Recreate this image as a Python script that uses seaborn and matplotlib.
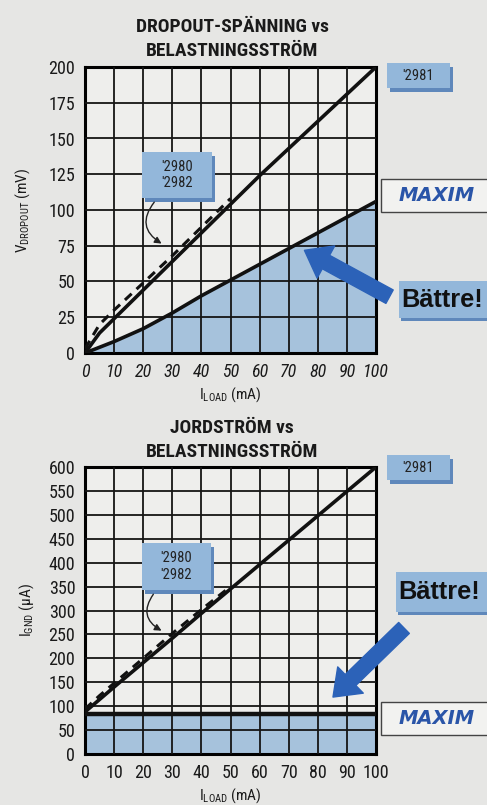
import numpy as np
import pandas as pd
import seaborn as sns
import matplotlib
matplotlib.use("Agg")
import matplotlib.pyplot as plt
from matplotlib import font_manager
from matplotlib.patches import Rectangle, FancyArrowPatch

# ---------------- data ----------------
load_ma = [0, 5, 10, 20, 30, 40, 50, 60, 70, 80, 90, 100]
load_half = [0, 5, 10, 20, 30, 40, 50]

drop_2981 = [0, 14, 24, 44, 64, 84, 104, 124, 143, 162, 181, 200]
drop_2980 = [3, 20, 30, 49, 68, 88, 108]
drop_maxim = [0, 4, 8, 17, 28, 40, 51, 62, 73, 84, 95, 106]

gnd_2981 = [88, 114, 140, 191, 242, 294, 345, 396, 447, 498, 549, 600]
gnd_2980 = [94, 122, 148, 200, 252, 302, 350]
gnd_maxim = [83, 83, 83, 83, 83, 83, 83, 83, 83, 83, 83, 83]

x_ticks = [0, 10, 20, 30, 40, 50, 60, 70, 80, 90, 100]
drop_ticks = [0, 25, 50, 75, 100, 125, 150, 175, 200]
gnd_ticks = [0, 50, 100, 150, 200, 250, 300, 350, 400, 450, 500, 550, 600]

# ---------------- fonts ----------------
sns.set_theme(style="white")
entries = font_manager.fontManager.ttflist
prefs = ["liberation sans narrow", "roboto condensed", "dejavu sans condensed",
         "noto sans condensed", "open sans condensed", "noto sans", "open sans",
         "roboto", "inter", "lato"]
NARROW, STRETCH = None, "normal"
for p in prefs:
    hits = [e for e in entries if e.name.lower() == p and
            (("condensed" in p or "narrow" in p) or str(e.stretch) in
             ("condensed", "semi-condensed", "extra-condensed"))]
    if hits:
        NARROW = hits[0].name
        STRETCH = str(hits[0].stretch) if str(hits[0].stretch) != "normal" else "normal"
        break
if NARROW is None:
    NARROW = "Liberation Sans"
    NARROW_OK = False
else:
    NARROW_OK = True

plt.rcParams["font.family"] = [NARROW, "Liberation Sans", "DejaVu Sans"]
plt.rcParams["font.stretch"] = STRETCH
plt.rcParams["mathtext.default"] = "regular"

TICK_FS = 13 if NARROW_OK else 10.5
TITLE_FS = 14 if NARROW_OK else 11.5

BG = "#e6e6e4"
FACE = "#eeeeec"
FILL = "#a6c2dc"
BOX = "#93b7da"
SHADOW = "#5f88bb"
ARROW = "#2c62b8"
MAXIMC = "#2a55a8"
INK = "#1a1a1a"

W, H = 487, 805
fig = plt.figure(figsize=(W / 100, H / 100), dpi=100, facecolor=BG)


def fx(px):
    return px / W


def fy(py):
    return 1 - py / H


def make_axes(top, bottom):
    ax = fig.add_axes([fx(85), fy(bottom), fx(376) - fx(85), fy(top) - fy(bottom)])
    ax.set_facecolor(FACE)
    for s in ax.spines.values():
        s.set_color("black")
        s.set_linewidth(2.2)
    return ax


def style_grid(ax, yticks, italic_x):
    ax.set_xlim(0, 100)
    ax.set_ylim(yticks[0], yticks[-1])
    ax.set_xticks(x_ticks)
    ax.set_yticks(yticks)
    for v in x_ticks[1:-1]:
        ax.axvline(v, color="#151515", lw=1.3, zorder=3)
    for v in yticks[1:-1]:
        ax.axhline(v, color="#151515", lw=1.3, zorder=3)
    ax.tick_params(length=0, pad=7, labelsize=TICK_FS, colors=INK)
    for lab in ax.get_xticklabels():
        lab.set_fontstyle("italic" if italic_x else "normal")
    ax.set_xlabel("I$_{LOAD}$ (mA)", fontsize=11, color=INK, labelpad=3)


def label_box(x0, y0, x1, y1, lines, fs=10.5):
    fig.patches.append(Rectangle((fx(x0 + 3), fy(y1 + 4)), fx(x1 - x0), fy(y0) - fy(y1),
                                 transform=fig.transFigure, facecolor=SHADOW,
                                 edgecolor="none", zorder=5))
    fig.patches.append(Rectangle((fx(x0), fy(y1)), fx(x1 - x0), fy(y0) - fy(y1),
                                 transform=fig.transFigure, facecolor=BOX,
                                 edgecolor="none", zorder=6))
    fig.text(fx((x0 + x1) / 2), fy((y0 + y1) / 2), "\n".join(lines), ha="center",
             va="center", fontsize=fs, color="#222222", zorder=7, linespacing=1.25)


def maxim_box(y0, y1):
    fig.patches.append(Rectangle((fx(381), fy(y1)), fx(120), fy(y0) - fy(y1),
                                 transform=fig.transFigure, facecolor="#f2f2f0",
                                 edgecolor="#444444", lw=1.0, zorder=5))
    fig.text(fx(437), fy((y0 + y1) / 2), "MAXIM", ha="center", va="center",
             fontsize=14, fontweight="bold", fontstyle="oblique", color=MAXIMC,
             family=["DejaVu Sans"], fontstretch="normal", zorder=6)


def better_box(x0, y0, y1):
    fig.patches.append(Rectangle((fx(x0), fy(y1)), fx(W - x0 + 5), fy(y0) - fy(y1),
                                 transform=fig.transFigure, facecolor=BOX,
                                 edgecolor="none", zorder=5))
    fig.patches.append(Rectangle((fx(x0 + 2), fy(y1 + 3)), fx(W - x0), 3 / H,
                                 transform=fig.transFigure, facecolor=SHADOW,
                                 edgecolor="none", zorder=5))
    fig.text(fx(x0 + 2), fy((y0 + y1) / 2), "Bättre!", ha="left", va="center",
             fontsize=18.3, fontweight="bold", color="#111111",
             family=["Liberation Sans", "DejaVu Sans"], fontstretch="normal", zorder=6)


def big_arrow(tail, head):
    arr = FancyArrowPatch((fx(tail[0]), fy(tail[1])), (fx(head[0]), fy(head[1])),
                          transform=fig.transFigure,
                          arrowstyle="simple,head_length=1.6,head_width=2.4,tail_width=1.0",
                          mutation_scale=11, facecolor=ARROW, edgecolor=ARROW,
                          zorder=8)
    fig.patches.append(arr)


def curve_arrow(start, end):
    arr = FancyArrowPatch((fx(start[0]), fy(start[1])), (fx(end[0]), fy(end[1])),
                          transform=fig.transFigure,
                          connectionstyle="arc3,rad=0.6",
                          arrowstyle="-|>,head_length=4,head_width=2",
                          color="#222222", lw=1.0, zorder=8)
    fig.patches.append(arr)


def title(y0, y1, l1, l2):
    for y, t in ((y0, l1), (y1, l2)):
        fig.text(fx(232), fy(y), t, ha="center", va="center",
                 fontsize=TITLE_FS, fontweight="bold", color=INK)


# ---------------- top chart ----------------
ax1 = make_axes(67, 353)
style_grid(ax1, drop_ticks, italic_x=True)
ax1.fill_between(load_ma, drop_maxim, 0, color=FILL, zorder=1, lw=0)
sns.lineplot(x=load_ma, y=drop_2981, ax=ax1, color="#111111", lw=2.6, zorder=4)
sns.lineplot(x=load_ma, y=drop_maxim, ax=ax1, color="#111111", lw=2.6, zorder=4)
sns.lineplot(x=load_half, y=drop_2980, ax=ax1, color="#111111", lw=2.2,
             zorder=4).lines[-1].set_dashes((3, 2.2))
ax1.set_ylabel("V$_{DROPOUT}$ (mV)", fontsize=11, color=INK, labelpad=12)
title(27, 51, "DROPOUT-SPÄNNING vs", "BELASTNINGSSTRÖM")

label_box(387, 63, 450, 88, ["'2981"])
label_box(142, 152, 212, 198, ["'2980", "'2982"])
curve_arrow((156, 200), (164, 245))
maxim_box(179, 212)
big_arrow((392, 298), (302, 249))
better_box(399, 281, 318)

# ---------------- bottom chart ----------------
ax2 = make_axes(467, 754)
style_grid(ax2, gnd_ticks, italic_x=False)
ax2.fill_between(load_ma, gnd_maxim, 0, color=FILL, zorder=1, lw=0)
sns.lineplot(x=load_ma, y=gnd_2981, ax=ax2, color="#111111", lw=2.6, zorder=4)
sns.lineplot(x=load_ma, y=gnd_maxim, ax=ax2, color="#111111", lw=3.2, zorder=4)
sns.lineplot(x=load_half, y=gnd_2980, ax=ax2, color="#111111", lw=2.2,
             zorder=4).lines[-1].set_dashes((3, 2.2))
ax2.set_ylabel("I$_{GND}$ (µA)", fontsize=11, color=INK, labelpad=9)
title(428, 452, "JORDSTRÖM vs", "BELASTNINGSSTRÖM")

label_box(387, 455, 450, 480, ["'2981"])
label_box(142, 543, 211, 590, ["'2980", "'2982"])
curve_arrow((155, 592), (164, 632))
better_box(396, 572, 612)
big_arrow((406, 626), (331, 699))
maxim_box(702, 735)

fig.savefig("out.png", dpi=100, facecolor=BG)
